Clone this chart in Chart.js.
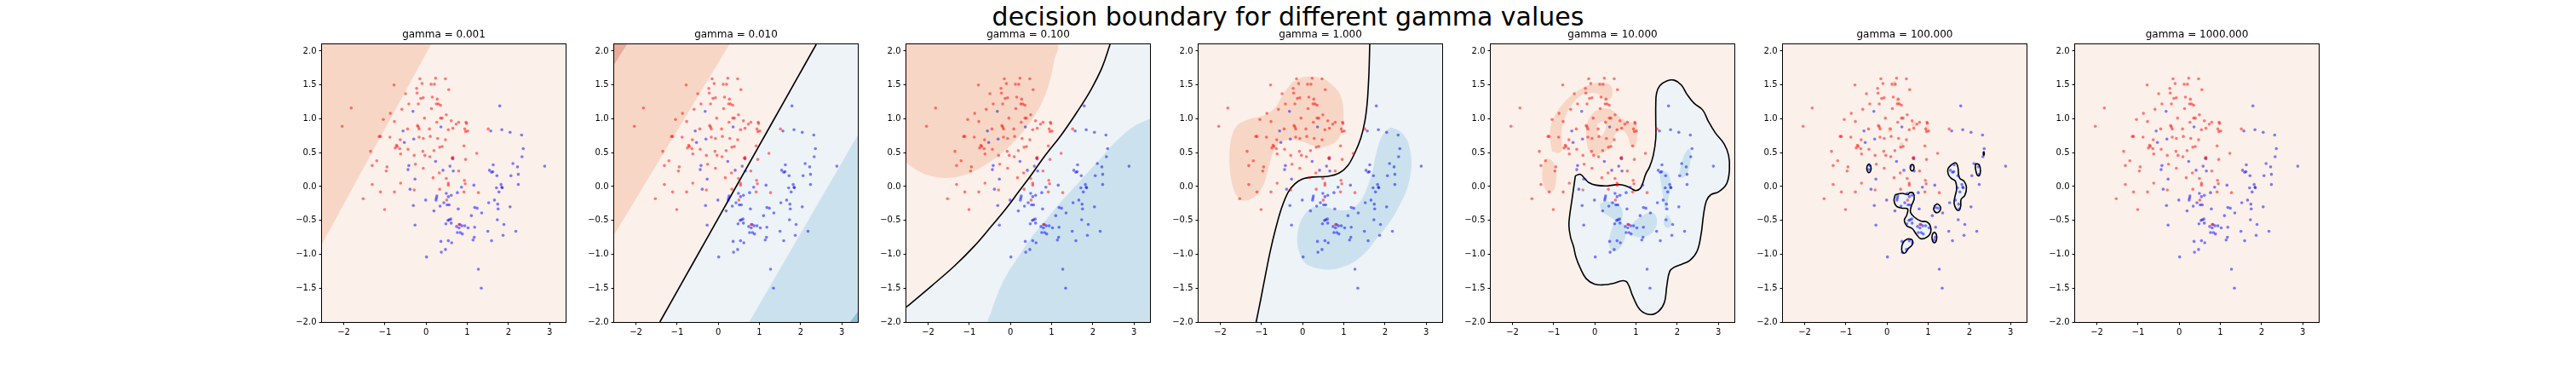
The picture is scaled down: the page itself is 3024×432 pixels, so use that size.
<!DOCTYPE html>
<html>
<head>
<meta charset="utf-8">
<script src="https://cdn.jsdelivr.net/npm/chart.js@4.4.0/dist/chart.umd.min.js"></script>
<style>
  body { margin: 0; background: #fff; width: 3024px; height: 432px; position: relative; overflow: hidden; font-family: 'DejaVu Sans'; }
  #suptitle { position: absolute; left: 0; top: 5px; width: 3024px; text-align: center; font-size: 30px; line-height: 30px; color: #000; }
  .panel { position: absolute; top: 22px; width: 386px; height: 386px; }
</style>
</head>
<body>
<div id="suptitle">decision boundary for different gamma values</div>
<div id="panels"></div>
<script>
// Data
const gammaLabels = ['0.001', '0.010', '0.100', '1.000', '10.000', '100.000', '1000.000'];
const xLimits = [-2.53, 3.39];
const yLimits = [-2.0, 2.10];
const xTicks = [-2, -1, 0, 1, 2, 3];
const xTickLabels = ['−2', '−1', '0', '1', '2', '3'];
const yTicks = [-2, -1.5, -1, -0.5, 0, 0.5, 1, 1.5, 2];
const yTickLabels = ['−2.0', '−1.5', '−1.0', '−0.5', '0.0', '0.5', '1.0', '1.5', '2.0'];

const redPts = [
  [-2.04,0.89],[-1.82,1.16],[-0.78,1.50],[-0.87,1.08],[-1.04,0.99],[-0.77,0.96],[-1.11,0.74],[-1.14,0.74],[-0.88,0.73],[-1.35,0.52],
  [-1.31,0.31],[-1.20,0.38],[-0.95,0.29],[-0.97,0.23],[-1.31,0.03],[-1.11,-0.08],[-0.77,-0.08],[-1.53,-0.18],[-1.01,-0.34],[-0.50,1.37],
  [-0.42,1.22],[-0.59,1.14],[-0.45,0.85],[-0.75,0.57],[-0.72,0.61],[-0.70,0.59],[-0.64,0.56],[-0.62,0.48],[-0.63,0.69],[-0.44,0.55],
  [-0.62,0.05],[-0.29,-0.05],[-0.26,0.33],[-0.29,0.46],[-0.15,1.59],[-0.10,1.52],[-0.23,1.45],[-0.22,1.38],[-0.13,1.30],[-0.07,1.31],
  [-0.19,1.22],[-0.04,1.01],[-0.21,0.90],[-0.19,0.88],[-0.17,0.85],[-0.17,0.73],[-0.07,0.71],[-0.03,0.46],[-0.08,0.52],[-0.07,0.27],
  [0.09,0.44],[0.08,0.85],[0.10,0.74],[0.12,1.51],[0.20,1.51],[0.23,1.60],[0.47,1.59],[0.55,1.43],[0.15,1.32],[0.27,1.29],
  [0.25,1.22],[0.30,1.22],[0.35,1.20],[0.13,1.15],[0.35,1.01],[0.39,1.01],[0.49,1.06],[0.26,0.95],[0.61,0.97],[0.79,0.95],
  [0.97,0.95],[0.98,0.93],[0.54,0.84],[0.65,0.86],[0.73,0.92],[0.94,0.85],[0.96,0.81],[1.01,0.82],[0.28,0.71],[0.47,0.69],
  [0.33,0.58],[0.39,0.59],[0.19,0.53],[0.65,0.43],[0.63,0.42],[0.96,0.40],[0.92,0.60],[1.23,0.49],[1.51,0.85],[0.32,0.20],
  [0.17,0.13],[0.49,0.12],[0.54,0.05],[0.54,0.02],[0.33,-0.04],[0.93,0.09],[0.95,0.04],[0.79,0.23],[1.27,-0.09],[0.92,-0.08],
  [0.50,-0.20],[0.80,-0.56]
];

const bluePts = [
  [-0.32,1.11],[-0.56,0.82],[-0.53,0.65],[-0.30,0.70],[0.36,0.88],[0.23,0.37],[-0.42,0.31],[-0.44,0.25],[-0.27,0.11],[-0.39,-0.04],
  [-0.31,-0.28],[-0.27,-0.57],[-0.01,-0.20],[0.01,-1.04],[0.19,-0.36],[0.24,-0.20],[0.25,-0.17],[0.26,-0.14],[0.41,0.24],[0.65,0.41],
  [0.58,0.30],[0.66,0.23],[0.49,-0.10],[0.54,-0.15],[0.61,-0.13],[0.34,-0.29],[0.43,-0.24],[0.51,-0.27],[0.56,-0.27],[0.78,-0.33],
  [0.76,-0.09],[0.86,-0.01],[1.16,0.02],[1.18,-0.31],[1.24,-0.32],[1.10,-0.43],[1.35,-0.39],[0.53,-0.50],[0.56,-0.49],[0.60,-0.48],
  [0.61,-0.54],[0.48,-0.55],[0.74,-0.59],[0.80,-0.61],[0.82,-0.56],[0.87,-0.58],[0.94,-0.58],[0.83,-0.68],[0.76,-0.68],[0.88,-0.70],
  [1.02,-0.61],[1.18,-0.60],[1.14,-0.79],[1.17,-0.75],[0.36,-0.81],[0.54,-0.80],[0.62,-0.83],[0.47,-0.93],[0.37,-0.97],[1.27,-1.22],
  [1.34,-1.50],[1.79,1.19],[1.57,0.82],[1.84,0.84],[2.04,0.80],[2.32,0.76],[2.36,0.56],[2.33,0.44],[2.11,0.34],[2.22,0.29],
  [2.88,0.30],[1.63,0.32],[1.54,0.24],[1.59,0.21],[1.62,0.22],[1.72,0.16],[2.24,0.18],[2.06,0.16],[2.24,0.03],[1.82,0.03],
  [1.71,-0.02],[1.85,-0.02],[1.84,-0.01],[1.77,-0.08],[1.66,-0.20],[1.52,-0.24],[1.74,-0.26],[1.75,-0.33],[2.04,-0.30],[1.73,-0.49],
  [1.89,-0.56],[1.87,-0.72],[1.50,-0.66],[2.18,-0.66],[1.59,-0.80]
];

// gamma = 0.001
const p1Salmon = [[-2.53,2.10],[0.12,2.10],[-2.53,-0.85]];

// gamma = 0.01
const p2Boundary = [[-1.42,-2.0],[2.38,2.10]];
const p2BlueLight = [[-1.42,-2.0],[2.38,2.10],[3.39,2.10],[3.39,-2.0]];
const p2Blue = [[3.39,0.76],[3.39,-2.0],[0.75,-2.0]];
const p2BlueDark = [[3.39,-1.85],[3.39,-2.0],[3.20,-2.0]];
const p2Salmon = [[-2.53,2.10],[0.27,2.10],[-2.53,-0.71]];
const p2SalmonDark = [[-2.53,2.10],[-2.22,2.10],[-2.53,1.80]];

// gamma = 0.1
const p3Boundary = [[2.42,2.10],[2.23,1.765],[1.955,1.43],[1.61,1.094],[1.23,0.758],[0.85,0.465],[0.506,0.172],
  [0.195,-0.08],[-0.115,-0.331],[-0.46,-0.583],[-0.874,-0.876],[-1.357,-1.17],[-1.91,-1.463],[-2.53,-1.78]];
const p3BlueLight = p3Boundary.concat([[-2.53,-2.0],[3.39,-2.0],[3.39,2.10]]);
const p3Blue = [[3.39,1.002],[2.99,0.884],[2.576,0.675],[2.231,0.444],[1.886,0.214],[1.54,-0.017],[1.196,-0.248],
  [0.85,-0.499],[0.506,-0.751],[0.23,-1.002],[-0.046,-1.254],[-0.288,-1.547],[-0.46,-1.84],[-0.515,-2.0],[3.39,-2.0]];
const p3Salmon = [[-2.53,2.10],[1.107,2.10],[1.058,1.848],[0.954,1.555],[0.782,1.262],[0.540,1.010],[0.230,0.758],
  [-0.15,0.528],[-0.564,0.339],[-1.012,0.193],[-1.495,0.130],[-1.909,0.151],[-2.254,0.235],[-2.53,0.348]];

// gamma = 1
const p4Boundary = [[1.63,2.10],[1.61,1.67],[1.57,1.25],[1.51,0.96],[1.41,0.71],[1.27,0.50],[1.10,0.31],[0.89,0.20],
  [0.61,0.15],[0.23,0.14],[-0.01,0.11],[-0.19,0.04],[-0.35,-0.08],[-0.52,-0.33],[-0.66,-0.63],[-0.79,-0.96],
  [-0.90,-1.29],[-1.02,-1.67],[-1.13,-2.0]];
const p4BlueLight = p4Boundary.concat([[3.39,-2.0],[3.39,2.10]]);
const p4Salmon = [[-0.04,1.61],[0.23,1.62],[0.51,1.59],[0.72,1.50],[0.89,1.38],[0.98,1.21],[0.99,1.00],[0.94,0.79],
  [0.82,0.67],[0.65,0.61],[0.44,0.58],[0.23,0.61],[-0.04,0.67],[-0.32,0.69],[-0.52,0.66],[-0.66,0.58],[-0.77,0.42],
  [-0.84,0.25],[-0.94,0.04],[-1.08,-0.10],[-1.28,-0.19],[-1.49,-0.20],[-1.64,-0.10],[-1.73,0.08],[-1.78,0.33],
  [-1.77,0.58],[-1.70,0.79],[-1.56,0.92],[-1.28,1.00],[-0.94,1.05],[-0.66,1.17],[-0.46,1.38],[-0.25,1.54]];
const p4Blue = [[2.17,0.87],[2.38,0.81],[2.55,0.67],[2.64,0.42],[2.62,0.17],[2.51,-0.08],[2.31,-0.33],[2.10,-0.54],
  [1.82,-0.75],[1.55,-0.96],[1.20,-1.13],[0.79,-1.22],[0.37,-1.21],[0.06,-1.13],[-0.11,-0.92],[-0.13,-0.71],
  [-0.04,-0.50],[0.17,-0.33],[0.44,-0.29],[0.72,-0.33],[0.93,-0.35],[1.20,-0.33],[1.41,-0.21],[1.55,-0.04],
  [1.69,0.21],[1.79,0.50],[1.93,0.75],[2.10,0.86]];

// gamma = 10
const p5Contour = [[-0.47,0.16],[-0.35,0.18],[-0.25,0.12],[-0.15,0.06],[0.03,0.02],[0.30,0.01],[0.58,0.03],[0.75,0.01],
  [0.89,-0.03],[0.99,-0.06],[1.10,-0.03],[1.17,0.06],[1.24,0.19],[1.33,0.29],[1.42,0.46],[1.48,0.71],[1.48,0.96],
  [1.48,1.21],[1.50,1.38],[1.58,1.49],[1.75,1.56],[1.93,1.57],[2.10,1.50],[2.24,1.36],[2.41,1.23],[2.62,1.13],
  [2.76,0.96],[2.93,0.79],[3.14,0.63],[3.25,0.46],[3.27,0.25],[3.20,0.04],[3.00,-0.08],[2.82,-0.12],[2.71,-0.21],
  [2.64,-0.42],[2.58,-0.71],[2.48,-0.96],[2.31,-1.09],[2.10,-1.15],[1.93,-1.19],[1.82,-1.25],[1.75,-1.46],
  [1.69,-1.71],[1.55,-1.84],[1.34,-1.89],[1.10,-1.82],[0.93,-1.63],[0.79,-1.42],[0.68,-1.39],[0.44,-1.43],
  [0.23,-1.45],[-0.01,-1.44],[-0.21,-1.36],[-0.35,-1.21],[-0.46,-1.04],[-0.52,-0.88],[-0.59,-0.75],[-0.63,-0.58],
  [-0.61,-0.42],[-0.56,-0.21],[-0.51,0.0],[-0.48,0.13]];
const p5BlueA = [[0.13,-0.25],[0.27,-0.22],[0.48,-0.24],[0.64,-0.31],[0.68,-0.42],[0.65,-0.52],[0.73,-0.58],[0.75,-0.71],
  [0.68,-0.84],[0.55,-0.94],[0.41,-0.95],[0.34,-0.84],[0.37,-0.71],[0.44,-0.58],[0.48,-0.50],[0.37,-0.45],[0.20,-0.38],[0.13,-0.31]];
const p5BlueB = [[0.86,-0.62],[0.96,-0.52],[1.13,-0.44],[1.34,-0.38],[1.46,-0.41],[1.51,-0.52],[1.44,-0.65],[1.27,-0.73],[1.06,-0.75],[0.89,-0.71]];
const p5BlueC = [[1.65,0.24],[1.79,0.19],[1.84,0.0],[1.79,-0.17],[1.74,-0.33],[1.70,-0.35],[1.67,-0.21],[1.62,0.0],[1.58,0.17]];
const p5BlueD = [[1.75,-0.41],[1.82,-0.46],[1.86,-0.56],[1.79,-0.61],[1.69,-0.58],[1.67,-0.50]];
const p5BlueE = [[2.27,0.56],[2.33,0.52],[2.31,0.33],[2.24,0.19],[2.13,0.13],[2.06,0.17],[2.10,0.33],[2.18,0.48]];
const p5SalmonArc = [[-1.04,0.52],[-1.09,0.73],[-1.06,0.92],[-0.94,1.08],[-0.70,1.27],[-0.42,1.41],[-0.15,1.50],[0.17,1.53],
  [0.37,1.50],[0.43,1.40],[0.37,1.29],[0.22,1.29],[0.06,1.37],[-0.15,1.38],[-0.35,1.34],[-0.56,1.21],[-0.70,1.06],
  [-0.79,0.90],[-0.81,0.71],[-0.80,0.54],[-0.88,0.49]];
const p5SalmonSwirl = [[0.20,1.16],[0.41,1.13],[0.58,1.04],[0.79,0.96],[0.99,0.92],[1.03,0.79],[0.99,0.61],[0.89,0.58],
  [0.79,0.75],[0.65,0.84],[0.51,0.79],[0.44,0.67],[0.34,0.56],[0.17,0.50],[0.03,0.46],[-0.11,0.50],[-0.19,0.63],
  [-0.21,0.84],[-0.15,1.00],[-0.01,1.11]];
const p5SwirlHole = [[0.06,0.92],[0.20,0.96],[0.27,0.88],[0.17,0.75],[0.08,0.75]];
const p5SalmonLeft = [[-1.18,0.42],[-1.04,0.38],[-0.95,0.25],[-0.94,0.08],[-1.01,-0.06],[-1.15,-0.08],[-1.25,0.04],[-1.28,0.21],[-1.25,0.35]];

// gamma = 100
const p6IslandA = [[-0.44,0.335],[-0.395,0.30],[-0.395,0.24],[-0.44,0.205],[-0.485,0.24],[-0.485,0.30]];
const p6IslandB = [[0.61,0.33],[0.65,0.305],[0.65,0.255],[0.61,0.23],[0.57,0.255],[0.57,0.305]];
const p6IslandC = [[0.20,-0.12],[0.37,-0.10],[0.51,-0.12],[0.55,-0.09],[0.64,-0.10],[0.66,-0.18],[0.59,-0.29],[0.57,-0.38],
  [0.66,-0.45],[0.82,-0.51],[0.96,-0.52],[1.05,-0.58],[1.06,-0.68],[0.96,-0.75],[0.82,-0.77],[0.72,-0.71],[0.61,-0.62],
  [0.48,-0.58],[0.42,-0.50],[0.48,-0.42],[0.50,-0.33],[0.37,-0.32],[0.23,-0.29],[0.17,-0.21]];
const p6IslandD = [[0.51,-0.77],[0.61,-0.79],[0.61,-0.86],[0.51,-0.92],[0.44,-0.98],[0.37,-0.97],[0.36,-0.88],[0.41,-0.81]];
const p6IslandE = [[1.22,-0.253],[1.29,-0.29],[1.30,-0.34],[1.22,-0.387],[1.14,-0.35],[1.15,-0.29]];
const p6IslandF = [[1.15,-0.67],[1.20,-0.71],[1.20,-0.79],[1.15,-0.83],[1.10,-0.79],[1.10,-0.71]];
const p6IslandG = [[1.58,0.33],[1.67,0.35],[1.72,0.29],[1.74,0.17],[1.77,0.12],[1.87,0.08],[1.93,-0.01],[1.89,-0.13],
  [1.80,-0.19],[1.79,-0.29],[1.75,-0.35],[1.69,-0.34],[1.63,-0.25],[1.65,-0.15],[1.69,-0.04],[1.66,0.08],[1.56,0.12],
  [1.49,0.18],[1.48,0.26]];
const p6IslandH = [[2.15,0.34],[2.24,0.32],[2.27,0.23],[2.24,0.16],[2.19,0.17],[2.15,0.26]];
const p6IslandI = [[2.35,0.52],[2.36,0.50],[2.36,0.47],[2.35,0.46],[2.34,0.47],[2.34,0.50]];
const p6PatchA = [[0.13,1.555],[0.21,1.555],[0.21,1.485],[0.13,1.485]];
const p6PatchB = [[0.22,1.295],[0.30,1.295],[0.30,1.225],[0.22,1.225]];
const p6PatchC = [[0.60,0.955],[0.70,0.955],[0.70,0.885],[0.60,0.885]];
const p6PatchD = [[0.93,0.895],[1.01,0.895],[1.01,0.825],[0.93,0.825]];
const p6PatchE = [[0.02,0.875],[0.10,0.875],[0.10,0.805],[0.02,0.805]];
const p6PatchF = [[0.31,0.645],[0.39,0.645],[0.39,0.575],[0.31,0.575]];

// Styles
const colors = {
  salmonDark: '#e9ab9e',
  salmon: '#f8d6c5',
  pink: '#fbf0ea',
  blueLight: '#eef3f7',
  blue: '#cbe2ee',
  blueDark: '#93c0db'
};

// Panels: regions listed bottom to top
const panels = [
  { base: 'pink', tension: 0, regions: [[p1Salmon, 'salmon']], lines: [] },
  { base: 'pink', tension: 0,
    regions: [[p2BlueLight, 'blueLight'], [p2Blue, 'blue'], [p2BlueDark, 'blueDark'], [p2Salmon, 'salmon'], [p2SalmonDark, 'salmonDark']],
    lines: [{ pts: p2Boundary, closed: false }] },
  { base: 'pink', tension: 0.4,
    regions: [[p3BlueLight, 'blueLight'], [p3Blue, 'blue'], [p3Salmon, 'salmon']],
    lines: [{ pts: p3Boundary, closed: false }] },
  { base: 'pink', tension: 0.3,
    regions: [[p4BlueLight, 'blueLight'], [p4Blue, 'blue'], [p4Salmon, 'salmon']],
    lines: [{ pts: p4Boundary, closed: false }] },
  { base: 'pink', tension: 0.4,
    regions: [[p5Contour, 'blueLight'], [p5BlueA, 'blue'], [p5BlueB, 'blue'], [p5BlueC, 'blue'], [p5BlueD, 'blue'], [p5BlueE, 'blue'],
      [p5SalmonArc, 'salmon'], [p5SalmonSwirl, 'salmon'], [p5SwirlHole, 'pink'], [p5SalmonLeft, 'salmon']],
    lines: [{ pts: p5Contour, closed: true }] },
  { base: 'pink', tension: 0.4,
    regions: [[p6IslandA, 'blueLight'], [p6IslandB, 'blueLight'], [p6IslandC, 'blueLight'], [p6IslandD, 'blueLight'],
      [p6IslandE, 'blueLight'], [p6IslandF, 'blueLight'], [p6IslandG, 'blueLight'], [p6IslandH, 'blueLight'], [p6IslandI, 'blueLight'],
      [p6PatchA, 'salmon'], [p6PatchB, 'salmon'], [p6PatchC, 'salmon'], [p6PatchD, 'salmon'], [p6PatchE, 'salmon'], [p6PatchF, 'salmon']],
    lines: [p6IslandA, p6IslandB, p6IslandC, p6IslandD, p6IslandE, p6IslandF, p6IslandG, p6IslandH, p6IslandI].map(p => ({ pts: p, closed: true })) },
  { base: 'pink', tension: 0, regions: [], lines: [] }
];

const toXY = pts => pts.map(p => ({ x: p[0], y: p[1] }));

// background + frame around each axes
const framePlugin = {
  id: 'frame',
  beforeDraw(chart, args, opts) {
    const a = chart.chartArea, ctx = chart.ctx;
    ctx.save();
    ctx.fillStyle = opts.base;
    ctx.fillRect(a.left, a.top, a.right - a.left, a.bottom - a.top);
    ctx.restore();
  },
  afterDatasetsDraw(chart) {
    const a = chart.chartArea, ctx = chart.ctx;
    ctx.save();
    ctx.strokeStyle = '#000';
    ctx.lineWidth = 1;
    ctx.strokeRect(Math.round(a.left) - 0.5, Math.round(a.top) - 0.5, Math.round(a.right - a.left) + 1, Math.round(a.bottom - a.top) + 1);
    ctx.restore();
  }
};

Chart.defaults.font.family = 'DejaVu Sans';
Chart.defaults.color = '#000';

const holder = document.getElementById('panels');

panels.forEach((panel, i) => {
  const div = document.createElement('div');
  div.className = 'panel';
  div.style.left = (378 + 343 * i - 50) + 'px';
  const canvas = document.createElement('canvas');
  div.appendChild(canvas);
  holder.appendChild(div);

  const datasets = [];
  datasets.push({ data: toXY(redPts), backgroundColor: 'rgba(255,0,0,0.5)', pointRadius: 1.8, pointBorderWidth: 0, order: 0 });
  datasets.push({ data: toXY(bluePts), backgroundColor: 'rgba(0,0,255,0.5)', pointRadius: 1.8, pointBorderWidth: 0, order: 0 });
  panel.lines.forEach(l => {
    const pts = l.closed ? l.pts.concat([l.pts[0]]) : l.pts;
    datasets.push({ data: toXY(pts), showLine: true, fill: false, borderColor: '#000', borderWidth: 1.6,
      pointRadius: 0, tension: panel.tension, order: 1 });
  });
  panel.regions.forEach(([pts, c], k) => {
    datasets.push({ data: toXY(pts), showLine: true, fill: 'shape', backgroundColor: colors[c],
      borderColor: 'rgba(0,0,0,0)', borderWidth: 0, pointRadius: 0, tension: panel.tension, order: 100 - k });
  });

  new Chart(canvas, {
    type: 'scatter',
    data: { datasets },
    options: {
      responsive: true,
      maintainAspectRatio: false,
      animation: false,
      events: [],
      layout: { padding: 0 },
      plugins: {
        legend: { display: false },
        tooltip: { enabled: false },
        title: {
          display: true,
          text: 'gamma = ' + gammaLabels[i],
          font: { size: 12, weight: 'normal' },
          color: '#000',
          padding: { top: 11.6, bottom: 4 }
        },
        frame: { base: colors[panel.base] }
      },
      scales: {
        x: {
          type: 'linear', position: 'bottom', min: xLimits[0], max: xLimits[1],
          afterBuildTicks: s => { s.ticks = xTicks.map(v => ({ value: v })); },
          afterFit: s => { s.height = 30; },
          ticks: { font: { size: 10 }, color: '#000', padding: 3, maxRotation: 0, autoSkip: false,
            callback: (v, idx) => xTickLabels[idx] },
          grid: { drawOnChartArea: false, color: '#000', tickLength: 3.5, tickWidth: 1 },
          border: { display: false }
        },
        y: {
          type: 'linear', position: 'left', min: yLimits[0], max: yLimits[1],
          afterBuildTicks: s => { s.ticks = yTicks.map(v => ({ value: v })); },
          afterFit: s => { s.width = 50; },
          ticks: { font: { size: 10 }, color: '#000', padding: 3, autoSkip: false,
            callback: (v, idx) => yTickLabels[idx] },
          grid: { drawOnChartArea: false, color: '#000', tickLength: 3.5, tickWidth: 1 },
          border: { display: false }
        },
        y2: {
          type: 'linear', position: 'right', display: true,
          afterFit: s => { s.width = 50; },
          ticks: { display: false },
          grid: { display: false },
          border: { display: false }
        }
      }
    },
    plugins: [framePlugin]
  });
});
</script>
</body>
</html>
